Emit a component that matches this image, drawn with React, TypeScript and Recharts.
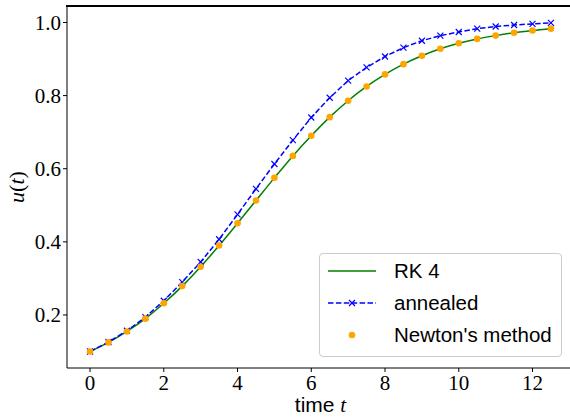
import React from "react";
import { LineChart, Line, XAxis, YAxis, Legend, ReferenceLine } from "recharts";

// time grid and the three solutions
const times = [0, 0.5, 1, 1.5, 2, 2.5, 3, 3.5, 4, 4.5, 5, 5.5, 6, 6.5, 7, 7.5, 8, 8.5, 9, 9.5, 10, 10.5, 11, 11.5, 12, 12.5];
const rk4 = [0.1, 0.125, 0.155, 0.19, 0.232, 0.279, 0.332, 0.39, 0.451, 0.513, 0.575, 0.635, 0.69, 0.741, 0.786, 0.825, 0.858, 0.886, 0.909, 0.928, 0.943, 0.955, 0.964, 0.972, 0.978, 0.983];
const annealed = [0.1, 0.126, 0.157, 0.194, 0.239, 0.29, 0.345, 0.407, 0.475, 0.545, 0.613, 0.678, 0.74, 0.794, 0.841, 0.877, 0.907, 0.931, 0.95, 0.964, 0.974, 0.983, 0.989, 0.993, 0.996, 0.999];
const newton = [0.1, 0.125, 0.155, 0.19, 0.232, 0.279, 0.332, 0.39, 0.451, 0.513, 0.575, 0.635, 0.69, 0.741, 0.786, 0.825, 0.858, 0.886, 0.909, 0.928, 0.943, 0.955, 0.964, 0.972, 0.978, 0.983];

const xTicks = [0, 2, 4, 6, 8, 10, 12];
const yTicks = [0.2, 0.4, 0.6, 0.8, 1.0];
const xDomain = [-0.625, 13.125];
const yDomain = [0.055, 1.045];

const data = times.map((t, i) => ({ t, rk4: rk4[i], annealed: annealed[i], newton: newton[i] }));

const SERIF = "'Liberation Serif', 'DejaVu Serif', serif";
const SANS = "'Liberation Sans', 'DejaVu Sans', sans-serif";

const CrossDot = (props: any) => {
  const { cx, cy, index } = props;
  if (cx == null || cy == null) return <g key={index} />;
  const s = 3;
  return (
    <g key={index} stroke="#0000ff" strokeWidth={1.2}>
      <line x1={cx - s} y1={cy - s} x2={cx + s} y2={cy + s} />
      <line x1={cx - s} y1={cy + s} x2={cx + s} y2={cy - s} />
    </g>
  );
};

const LegendBox = () => {
  const rows = [
    { label: "RK 4", kind: "solid" },
    { label: "annealed", kind: "dashed" },
    { label: "Newton's method", kind: "dot" },
  ];
  return (
    <div
      style={{
        width: 243,
        height: 104,
        boxSizing: "border-box",
        border: "1px solid #cccccc",
        borderRadius: 4,
        background: "rgba(255,255,255,0.8)",
        position: "relative",
      }}
    >
      {rows.map((r, i) => (
        <div key={r.label} style={{ position: "absolute", left: 0, top: 6 + i * 32.2, height: 22, width: 243 }}>
          <svg width={60} height={22} style={{ position: "absolute", left: 0, top: 0 }}>
            {r.kind === "solid" && <line x1={8} y1={11} x2={56} y2={11} stroke="#008000" strokeWidth={1.5} />}
            {r.kind === "dashed" && (
              <g>
                <line x1={8} y1={11} x2={56} y2={11} stroke="#0000ff" strokeWidth={1.5} strokeDasharray="5.5 2.4" />
                <line x1={29} y1={8} x2={35} y2={14} stroke="#0000ff" strokeWidth={1.2} />
                <line x1={29} y1={14} x2={35} y2={8} stroke="#0000ff" strokeWidth={1.2} />
              </g>
            )}
            {r.kind === "dot" && <circle cx={32} cy={11} r={3.3} fill="#ffa500" />}
          </svg>
          <span
            style={{
              position: "absolute",
              left: 74,
              top: 0,
              lineHeight: "22px",
              fontFamily: SANS,
              fontSize: 20.5,
              color: "#000",
              whiteSpace: "nowrap",
            }}
          >
            {r.label}
          </span>
        </div>
      ))}
    </div>
  );
};

const XLabel = (props: any) => {
  const { viewBox } = props;
  const cx = viewBox.x + viewBox.width / 2;
  return (
    <text x={cx} y={412} textAnchor="middle" fontSize={21} fill="#000">
      <tspan fontFamily={SANS}>time </tspan>
      <tspan fontFamily={SERIF} fontStyle="italic">t</tspan>
    </text>
  );
};

const YLabel = (props: any) => {
  const { viewBox } = props;
  const cy = viewBox.y + viewBox.height / 2;
  return (
    <text x={0} y={0} transform={`translate(24, ${cy}) rotate(-90)`} textAnchor="middle" fontSize={22} fontFamily={SERIF} fill="#000">
      <tspan fontStyle="italic">u</tspan>
      <tspan>(</tspan>
      <tspan fontStyle="italic">t</tspan>
      <tspan>)</tspan>
    </text>
  );
};

export default function App() {
  const tickStyle = { fill: "#000", fontSize: 21, fontFamily: SERIF };
  return (
    <div style={{ position: "fixed", left: 0, top: 0, width: 570, height: 417, overflow: "hidden", background: "#fff" }}>
      <LineChart width={580} height={417} data={data} margin={{ top: 6, right: 6, left: 0, bottom: 0 }}>
        <XAxis
          dataKey="t"
          type="number"
          domain={xDomain}
          ticks={xTicks}
          allowDataOverflow
          height={49}
          tickSize={4}
          tickMargin={3}
          tick={tickStyle}
          axisLine={{ stroke: "#000", strokeWidth: 1 }}
          tickLine={{ stroke: "#000", strokeWidth: 1 }}
          label={<XLabel />}
        />
        <YAxis
          type="number"
          domain={yDomain}
          ticks={yTicks}
          allowDataOverflow
          width={67}
          tickSize={4}
          tickMargin={2}
          tick={tickStyle}
          tickFormatter={(v: number) => v.toFixed(1)}
          axisLine={{ stroke: "#000", strokeWidth: 1 }}
          tickLine={{ stroke: "#000", strokeWidth: 1 }}
          label={<YLabel />}
        />
        {/* top spine */}
        <ReferenceLine y={yDomain[1]} stroke="#000" strokeWidth={1.5} ifOverflow="visible" />
        <Legend
          layout="vertical"
          align="center"
          verticalAlign="middle"
          content={() => <LegendBox />}
          wrapperStyle={{ left: 319, top: 253, width: 243, height: 104 }}
        />
        <Line
          dataKey="rk4"
          type="monotone"
          stroke="#008000"
          strokeWidth={1.5}
          dot={false}
          activeDot={false}
          isAnimationActive={false}
        />
        <Line
          dataKey="annealed"
          type="linear"
          stroke="#0000ff"
          strokeWidth={1.5}
          strokeDasharray="5.5 2.4"
          dot={CrossDot}
          activeDot={false}
          isAnimationActive={false}
        />
        <Line
          dataKey="newton"
          type="linear"
          stroke="none"
          dot={{ r: 3.3, fill: "#ffa500", stroke: "none" }}
          activeDot={false}
          isAnimationActive={false}
        />
      </LineChart>
      {/* top spine of the axes frame, drawn over the chart */}
      <div style={{ position: "absolute", left: 66, top: 5, width: 510, height: 2, background: "#000", zIndex: 10 }} />
    </div>
  );
}
